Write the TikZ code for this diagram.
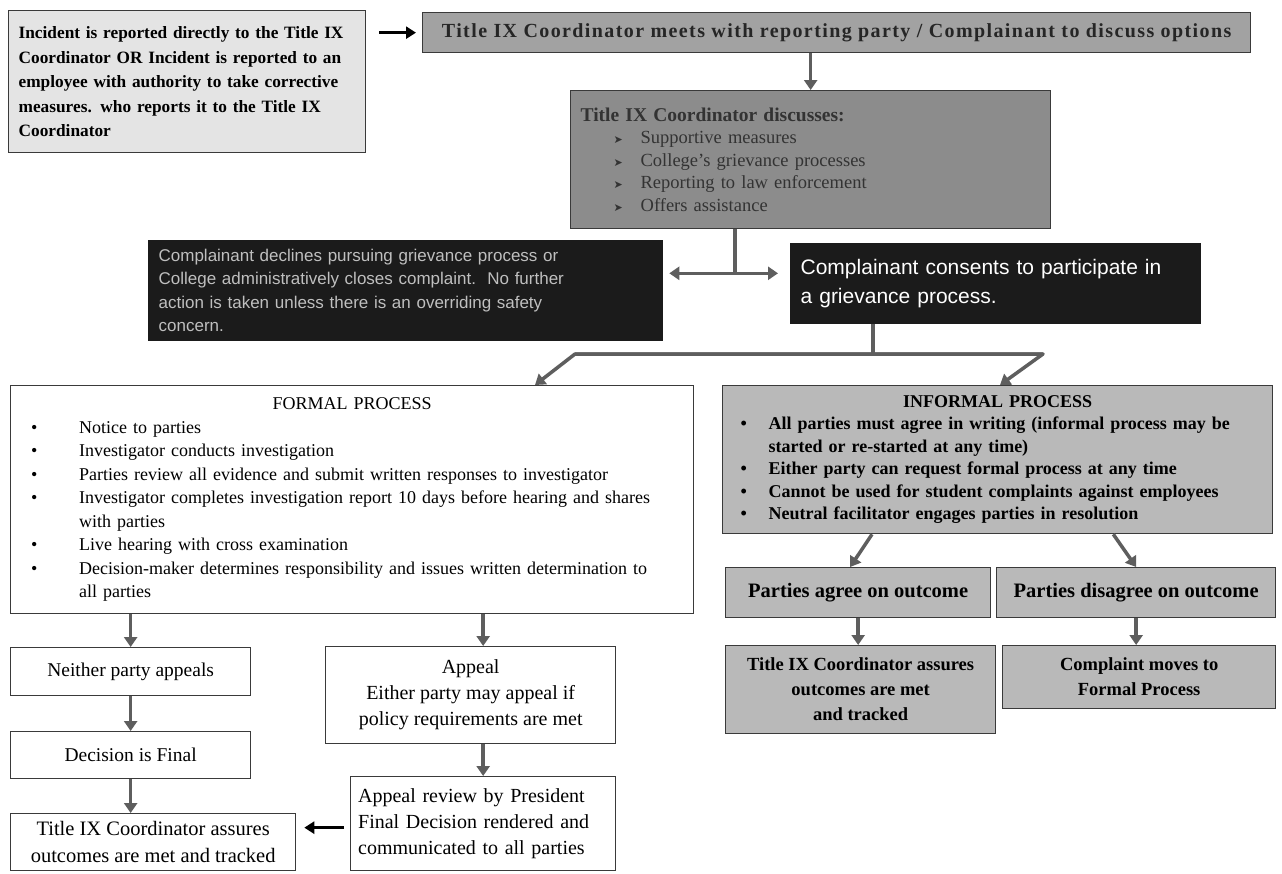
\documentclass[tikz,border=0pt]{standalone}
\usepackage{fontspec}
\setmainfont{Liberation Serif}
\setsansfont{Liberation Sans}
\newfontfamily\symfont{DejaVu Sans}
\usetikzlibrary{arrows.meta,positioning,calc}

\definecolor{boxedge}{HTML}{3A3A3A}
\definecolor{lightfill}{HTML}{E4E4E4}
\definecolor{midfill}{HTML}{A2A2A2}
\definecolor{darkfill}{HTML}{8C8C8C}
\definecolor{infill}{HTML}{B9B9B9}
\definecolor{blackfill}{HTML}{1B1B1B}
\definecolor{flowgray}{HTML}{5E5E5E}

% bullet line with hanging indent
\newcommand{\bitem}[3]{\par\noindent\hangindent=#1\hangafter=1\makebox[#1][l]{\hspace{#2}#3}}
\newcommand{\bdot}{\textbullet}
\newcommand{\btri}{{\symfont\fontsize{11}{11}\selectfont ➤}}

\tikzset{
  box/.style = {draw=boxedge, line width=1.3pt, inner sep=0pt, anchor=north west},
  flow/.style = {draw=flowgray, line width=3.5pt, -{Triangle[width=13pt,length=10pt]}},
  flowk/.style = {draw=black, line width=3.5pt, -{Triangle[width=12pt,length=10pt]}},
  bar/.style = {draw=flowgray, line width=3.5pt}
}

\begin{document}
\begin{tikzpicture}[x=1pt, y=-1pt]
\useasboundingbox[fill=white] (0,0) rectangle (1282,873);

% top row
\node[box, fill=lightfill, minimum width=357pt, minimum height=142pt, text width=337pt, align=left,
  font=\bfseries\fontsize{17.3}{24.5}\selectfont] (incident) at (8,10)
  {Incident is reported directly to the Title IX\\ Coordinator OR Incident is reported to an\\ employee with authority to take corrective\\ measures. who reports it to the Title IX\\ Coordinator};
\node[box, fill=midfill, minimum width=828pt, minimum height=40pt, text=black!85,
  font=\bfseries\fontsize{20}{22}\selectfont\addfontfeatures{LetterSpace=7}] (meets) at (422,12)
  {Title IX Coordinator meets with reporting party / Complainant to discuss options};
\node[box, fill=darkfill, minimum width=480pt, minimum height=138pt, text width=460pt, align=left, text=black!80,
  font=\fontsize{18.5}{22.5}\selectfont] (discusses) at (570,90)
  {{\bfseries\fontsize{19.5}{22.5}\selectfont Title IX Coordinator discusses:}
   \bitem{60pt}{33pt}{\btri}Supportive measures
   \bitem{60pt}{33pt}{\btri}College's grievance processes
   \bitem{60pt}{33pt}{\btri}Reporting to law enforcement
   \bitem{60pt}{33pt}{\btri}Offers assistance\par};

% complainant choice
\node[box, draw=blackfill, fill=blackfill, minimum width=514pt, minimum height=100pt, text width=494pt, align=left,
  text=black!25, font=\sffamily\fontsize{17}{23.5}\selectfont] (declines) at (148,240)
  {Complainant declines pursuing grievance process or\\ College administratively closes complaint.\ \ No further\\ action is taken unless there is an overriding safety\\ concern.};
\node[box, draw=blackfill, fill=blackfill, minimum width=410pt, minimum height=80pt, text width=390pt, align=left,
  text=white, font=\sffamily\fontsize{21}{29}\selectfont] (consents) at (790,243)
  {Complainant consents to participate in\\ a grievance process.};

% process boxes
\node[box, fill=white, minimum width=683pt, minimum height=228pt, text width=626pt, align=left,
  font=\fontsize{18}{23.5}\selectfont] (formal) at (10,385)
  {\makebox[\linewidth][c]{FORMAL PROCESS}
   \bitem{40pt}{-8pt}{\bdot}Notice to parties
   \bitem{40pt}{-8pt}{\bdot}Investigator conducts investigation
   \bitem{40pt}{-8pt}{\bdot}Parties review all evidence and submit written responses to investigator
   \bitem{40pt}{-8pt}{\bdot}Investigator completes investigation report 10 days before hearing and shares with parties
   \bitem{40pt}{-8pt}{\bdot}Live hearing with cross examination
   \bitem{40pt}{-8pt}{\bdot}Decision-maker determines responsibility and issues written determination to all parties\par};
\node[box, fill=infill, minimum width=550pt, minimum height=148pt, text width=522pt, align=left,
  font=\bfseries\fontsize{18}{22.5}\selectfont] (informal) at (722,385)
  {\makebox[\linewidth][c]{INFORMAL PROCESS}
   \bitem{32pt}{4pt}{\bdot}All parties must agree in writing (informal process may be started or re-started at any time)
   \bitem{32pt}{4pt}{\bdot}Either party can request formal process at any time
   \bitem{32pt}{4pt}{\bdot}Cannot be used for student complaints against employees
   \bitem{32pt}{4pt}{\bdot}Neutral facilitator engages parties in resolution\par};

% informal outcomes
\node[box, fill=infill, minimum width=265pt, minimum height=50pt,
  font=\bfseries\fontsize{20.5}{22}\selectfont] (agree) at (725,567) {Parties agree on outcome};
\node[box, fill=infill, minimum width=279pt, minimum height=50pt,
  font=\bfseries\fontsize{20.5}{22}\selectfont] (disagree) at (996,567) {Parties disagree on outcome};
\node[box, fill=infill, minimum width=270pt, minimum height=88pt, align=center,
  font=\bfseries\fontsize{18.5}{25}\selectfont] (assuresR) at (725,645)
  {Title IX Coordinator assures\\ outcomes are met\\ and tracked};
\node[box, fill=infill, minimum width=273pt, minimum height=63pt, align=center,
  font=\bfseries\fontsize{18.5}{25}\selectfont] (moves) at (1002,645)
  {Complaint moves to\\ Formal Process};

% formal outcomes
\node[box, fill=white, minimum width=240pt, minimum height=48pt,
  font=\fontsize{19.5}{24}\selectfont] (neither) at (10,647) {Neither party appeals};
\node[box, fill=white, minimum width=240pt, minimum height=47pt,
  font=\fontsize{19.5}{24}\selectfont] (decision) at (10,731) {Decision is Final};
\node[box, fill=white, minimum width=285pt, minimum height=57pt, align=center,
  font=\fontsize{20.5}{27}\selectfont] (final) at (10,813)
  {Title IX Coordinator assures\\ outcomes are met and tracked};
\node[box, fill=white, minimum width=290pt, minimum height=97pt, align=center,
  font=\fontsize{20}{26}\selectfont] (appeal) at (325,646)
  {Appeal\\ Either party may appeal if\\ policy requirements are met};
\node[box, fill=white, minimum width=265pt, minimum height=94pt, text width=250pt, align=left,
  font=\fontsize{20}{26}\selectfont] (review) at (350,776)
  {Appeal review by President\\ Final Decision rendered and\\ communicated to all parties};

% connectors, top part
\draw[flowk, shorten <=13pt, shorten >=6pt] (incident.east |- meets.west) -- (meets.west);
\draw[flow] (discusses.north |- meets.south) -- (discusses.north);
\coordinate (fork) at ($(discusses.south west)+(165,44)$);
\draw[bar] ($(discusses.south west)+(165,0)$) -- (fork);
\draw[flow, shorten >=6pt] (fork) -- (fork -| declines.east);
\draw[flow, shorten >=12pt] (fork) -- (fork -| consents.west);

% split to formal / informal
\coordinate (jl) at (575,354);
\coordinate (jr) at (1043,354);
\coordinate (jm) at (873,354);
\draw[bar] (consents.south -| jm) -- (jm);
\draw[flow, line join=round] (jr) -- (jl) -- ($(formal.north west)+(525,0)$);
\draw[flow, line join=round] (jl) -- (jr) -- ($(informal.north west)+(278,0)$);

% informal branch
\draw[flow] ($(informal.south west)+(150,0)$) -- ($(agree.north)+(-8,0)$);
\draw[flow] ($(informal.south east)+(-160,0)$) -- (disagree.north);
\draw[flow] (agree.south) -- (agree.south |- assuresR.north);
\draw[flow] (disagree.south) -- (disagree.south |- moves.north);

% formal branch
\draw[flow] (formal.south -| neither.north) -- (neither.north);
\draw[flow] (neither.south) -- (decision.north);
\draw[flow] (decision.south) -- (decision.south |- final.north);
\draw[flow] (formal.south -| review.north) -- (review.north |- appeal.north);
\draw[flow] (review.north |- appeal.south) -- (review.north);
\coordinate (revl) at ($(review.west)+(0,4)$);
\draw[flowk, line width=3pt, shorten <=6pt, shorten >=8pt] (revl) -- (final.east |- revl);
\end{tikzpicture}
\end{document}
